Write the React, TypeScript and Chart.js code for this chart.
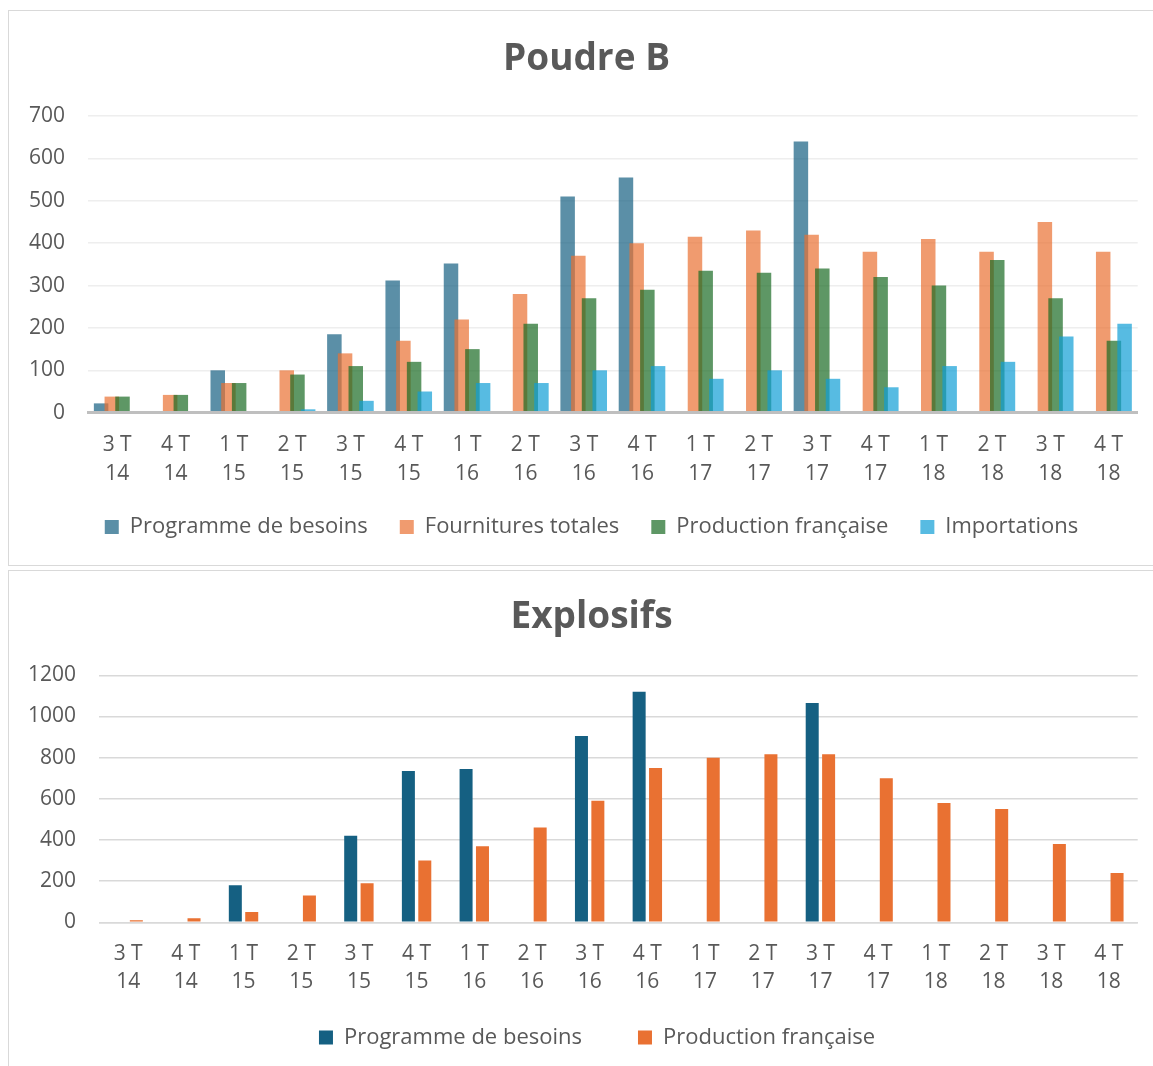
import React, { useEffect, useRef } from "react";
import { Chart, registerables } from "chart.js";

Chart.register(...registerables);

// ---------- Data ----------
const quarterLabels = ["3 T", "4 T", "1 T", "2 T", "3 T", "4 T", "1 T", "2 T", "3 T", "4 T", "1 T", "2 T", "3 T", "4 T", "1 T", "2 T", "3 T", "4 T"];
const yearLabels = ["14", "14", "15", "15", "15", "15", "16", "16", "16", "16", "17", "17", "17", "17", "18", "18", "18", "18"];

const poudreSeriesNames = ["Programme de besoins", "Fournitures totales", "Production française", "Importations"];
const poudreBesoins = [22, null, 100, null, 185, 312, 352, null, 510, 555, null, null, 640, null, null, null, null, null];
const poudreFournitures = [38, 42, 70, 100, 140, 170, 220, 280, 370, 400, 415, 430, 420, 380, 410, 380, 450, 380];
const poudreProduction = [38, 42, 70, 90, 110, 120, 150, 210, 270, 290, 335, 330, 340, 320, 300, 360, 270, 170];
const poudreImportations = [null, null, null, 8, 28, 50, 70, 70, 100, 110, 80, 100, 80, 60, 110, 120, 180, 210];

const explosifsSeriesNames = ["Programme de besoins", "Production française"];
const explosifsBesoins = [null, null, 180, null, 420, 735, 745, null, 905, 1120, null, null, 1065, null, null, null, null, null];
const explosifsProduction = [10, 20, 50, 130, 190, 300, 370, 460, 590, 750, 800, 817, 817, 700, 580, 550, 380, 240];

const poudreTicks = { min: 0, max: 700, step: 100 };
const explosifsTicks = { min: 0, max: 1200, step: 200 };

// ---------- Styles ----------
const TEXT = "#595959";
const FONT = "'Open Sans', 'Noto Sans', sans-serif";
const LEGEND_FONT = 22;

const labels = quarterLabels.map((q, i) => [q, yearLabels[i]]);
const plainNumber = (v: any) => String(v);

// draw datasets in forward order so later series overlap earlier ones (as in Excel)
const forwardDrawOrder = {
  id: "forwardDrawOrder",
  beforeDatasetsDraw(chart: any) {
    const metas = chart.getSortedVisibleDatasetMetas();
    for (const m of metas) m.controller.draw();
    return false;
  },
};

// place legend and title where the original has them
const placeBoxes = (legendX: number, legendY: number, titleX: number) => ({
  id: "placeBoxes",
  afterLayout(chart: any) {
    const lg = chart.legend;
    if (lg) {
      const p = lg.options.labels.padding;
      const curY = lg.top + p + LEGEND_FONT / 2;
      const dy = legendY - curY;
      const dx = legendX - (lg.left + lg.right) / 2;
      lg.top += dy;
      lg.bottom += dy;
      lg.left += dx;
      lg.right += dx;
    }
    const t = chart.titleBlock;
    if (t) {
      const dx = titleX - (t.left + t.right) / 2;
      t.left += dx;
      t.right += dx;
    }
  },
});

export default function App() {
  const topRef = useRef<HTMLCanvasElement | null>(null);
  const botRef = useRef<HTMLCanvasElement | null>(null);

  useEffect(() => {
    Chart.defaults.font.family = FONT;
    Chart.defaults.color = TEXT;

    const top = new Chart(topRef.current as HTMLCanvasElement, {
      type: "bar",
      data: {
        labels,
        datasets: [
          { label: poudreSeriesNames[0], data: poudreBesoins, backgroundColor: "rgba(21,96,130,0.7)" },
          { label: poudreSeriesNames[1], data: poudreFournitures, backgroundColor: "rgba(233,113,50,0.7)" },
          { label: poudreSeriesNames[2], data: poudreProduction, backgroundColor: "rgba(25,107,36,0.7)" },
          { label: poudreSeriesNames[3], data: poudreImportations, backgroundColor: "rgba(15,158,213,0.7)" },
        ],
      },
      options: {
        responsive: false,
        animation: false,
        layout: { padding: { left: 0, right: 15.3, top: 0, bottom: 7.3 } },
        datasets: { bar: { categoryPercentage: 0.734, barPercentage: 1.355 } },
        plugins: {
          title: {
            display: true,
            text: "Poudre B",
            color: TEXT,
            font: { size: 37, weight: "bold", lineHeight: 1.2 },
            padding: { top: 26.4, bottom: 34.2 },
          },
          legend: {
            position: "bottom",
            labels: { boxWidth: 14, boxHeight: 14, padding: 32, color: TEXT, font: { size: LEGEND_FONT } },
          },
          tooltip: { enabled: false },
        },
        scales: {
          x: {
            grid: { display: false, drawTicks: false },
            border: { display: true, color: "#BFBFBF", width: 3, z: 1 },
            ticks: { color: TEXT, font: { size: 21, lineHeight: 1.381 }, padding: 18, maxRotation: 0, minRotation: 0, autoSkip: false },
            afterFit: (s: any) => { s.height = 80; },
          },
          y: {
            min: poudreTicks.min,
            max: poudreTicks.max,
            ticks: { stepSize: poudreTicks.step, color: TEXT, font: { size: 21 }, padding: 23, callback: plainNumber },
            grid: { color: "#EEEEEE", lineWidth: 1.5, drawTicks: false },
            border: { display: false },
            afterFit: (s: any) => { s.width = 79; },
          },
        },
      } as any,
      plugins: [forwardDrawOrder, placeBoxes(582.5, 515.9, 577.5)],
    });

    const bot = new Chart(botRef.current as HTMLCanvasElement, {
      type: "bar",
      data: {
        labels,
        datasets: [
          { label: explosifsSeriesNames[0], data: explosifsBesoins, backgroundColor: "#156082" },
          { label: explosifsSeriesNames[1], data: explosifsProduction, backgroundColor: "#E97132" },
        ],
      },
      options: {
        responsive: false,
        animation: false,
        layout: { padding: { left: 0, right: 15.3, top: 0, bottom: 0.7 } },
        datasets: { bar: { categoryPercentage: 0.5686, barPercentage: 0.793 } },
        plugins: {
          title: {
            display: true,
            text: "Explosifs",
            color: TEXT,
            font: { size: 37, weight: "bold", lineHeight: 1.2 },
            padding: { top: 23.8, bottom: 36.1 },
          },
          legend: {
            position: "bottom",
            labels: { boxWidth: 14, boxHeight: 14, padding: 56, color: TEXT, font: { size: LEGEND_FONT } },
          },
          tooltip: { enabled: false },
        },
        scales: {
          x: {
            grid: { display: false, drawTicks: false },
            border: { display: true, color: "#D9D9D9", width: 1.5, z: 1 },
            ticks: { color: TEXT, font: { size: 21, lineHeight: 1.357 }, padding: 17.4, maxRotation: 0, minRotation: 0, autoSkip: false },
            afterFit: (s: any) => { s.height = 80; },
          },
          y: {
            min: explosifsTicks.min,
            max: explosifsTicks.max,
            ticks: { stepSize: explosifsTicks.step, color: TEXT, font: { size: 21 }, padding: 23.3, callback: plainNumber },
            grid: { color: "#D9D9D9", lineWidth: 1.5, drawTicks: false },
            border: { display: false },
            afterFit: (s: any) => { s.width = 90.3; },
          },
        },
      } as any,
      plugins: [placeBoxes(588, 466.4, 582.5)],
    });

    return () => {
      top.destroy();
      bot.destroy();
    };
  }, []);

  const boxStyle: React.CSSProperties = {
    position: "absolute",
    left: 8,
    width: 1170,
    border: "1px solid #D9D9D9",
    boxSizing: "border-box",
    background: "#fff",
    overflow: "hidden",
  };

  return (
    <div style={{ position: "fixed", left: 0, top: 0, width: "100vw", height: "100vh", overflow: "hidden", background: "#fff" }}>
      <div style={{ ...boxStyle, top: 10, height: 556 }}>
        <canvas ref={topRef} width={1144} height={553} style={{ position: "absolute", left: 0, top: 0, width: 1144, height: 553 }} />
      </div>
      <div style={{ ...boxStyle, top: 570, height: 530 }}>
        <canvas ref={botRef} width={1144} height={520} style={{ position: "absolute", left: 0, top: 0, width: 1144, height: 520 }} />
      </div>
    </div>
  );
}
